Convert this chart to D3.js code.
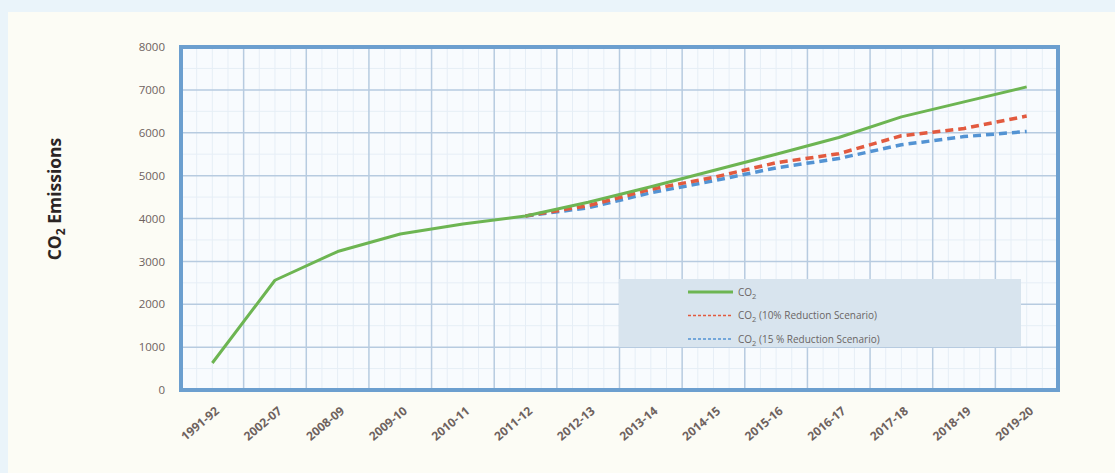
<!DOCTYPE html>
<meta charset="utf-8">
<style>
body { margin: 0; background: #eaf4fa; }
svg { display: block; }
.tick text { font-family: "Open Sans", Arial, sans-serif; fill: #6e625e; }
.axis path, .axis line { display: none; }
</style>
<body>
<svg width="1115" height="473" id="vis"></svg>
<script src="https://cdn.jsdelivr.net/npm/d3@7/dist/d3.min.js"></script>
<script>
// values
var years = ["1991-92","2002-07","2008-09","2009-10","2010-11","2011-12","2012-13",
  "2013-14","2014-15","2015-16","2016-17","2017-18","2018-19","2019-20"];
var co2     = [630, 2560, 3230, 3640, 3870, 4060, 4380, 4740, 5120, 5500, 5890, 6370, 6720, 7070];
var co2Ten  = [null, null, null, null, null, 4060, 4300, 4680, 4960, 5300, 5510, 5930, 6100, 6390];
var co2Fift = [null, null, null, null, null, 4060, 4250, 4600, 4880, 5180, 5400, 5720, 5910, 6030];
var yTicks = [0,1000,2000,3000,4000,5000,6000,7000,8000];

var series = [
  {name: "CO", tail: "", values: co2, color: "#6db552", dash: null, width: 3},
  {name: "CO", tail: " (10% Reduction Scenario)", values: co2Ten, color: "#e25a3f", dash: "8,5", width: 3.5},
  {name: "CO", tail: " (15 % Reduction Scenario)", values: co2Fift, color: "#5393d3", dash: "8,5", width: 3.5}
];

var svg = d3.select("svg");
svg.append("rect").attr("x", 8).attr("y", 12).attr("width", 1107).attr("height", 461).attr("fill", "#fcfcf5");

var pLeft = 181, pRight = 1058, pTop = 47, pBottom = 390;
var x = d3.scaleBand().domain(years).range([pLeft, pRight]);
var y = d3.scaleLinear().domain([0, 8000]).range([pBottom, pTop]);

svg.append("rect").attr("x", pLeft).attr("y", pTop).attr("width", pRight-pLeft).attr("height", pBottom-pTop)
  .attr("fill", "#f8fbfe");

// minor grid
var minorX = [];
years.forEach(function(d){ [0.25,0.5,0.75].forEach(function(f){ minorX.push(x(d) + f*x.bandwidth()); }); });
svg.append("g").selectAll("line").data(minorX).enter().append("line")
  .attr("x1", function(d){return d;}).attr("x2", function(d){return d;})
  .attr("y1", pTop).attr("y2", pBottom).attr("stroke", "#e6eef6").attr("stroke-width", 1);
var minorY = d3.range(500, 8000, 1000);
svg.append("g").selectAll("line").data(minorY).enter().append("line")
  .attr("x1", pLeft).attr("x2", pRight)
  .attr("y1", function(d){return y(d);}).attr("y2", function(d){return y(d);})
  .attr("stroke", "#e6eef6").attr("stroke-width", 1);

// major grid
svg.append("g").selectAll("line").data(years.slice(1)).enter().append("line")
  .attr("x1", function(d){return x(d);}).attr("x2", function(d){return x(d);})
  .attr("y1", pTop).attr("y2", pBottom).attr("stroke", "#b7cbe0").attr("stroke-width", 1.5);
svg.append("g").selectAll("line").data(yTicks).enter().append("line")
  .attr("x1", pLeft).attr("x2", pRight)
  .attr("y1", function(d){return y(d);}).attr("y2", function(d){return y(d);})
  .attr("stroke", "#b7cbe0").attr("stroke-width", 1.5);

// axes
var ya = svg.append("g").attr("class", "axis").attr("transform", "translate(" + (pLeft - 6) + ",0)")
  .call(d3.axisLeft(y).tickValues(yTicks).tickSize(0).tickPadding(10).tickFormat(d3.format("d")));
ya.selectAll("text").style("font-size", "11.5px");

var xa = svg.append("g").attr("class", "axis").attr("transform", "translate(0," + (pBottom + 4) + ")")
  .call(d3.axisBottom(x).tickSize(0).tickPadding(0));
xa.selectAll("text")
  .style("font-size", "12px").style("font-weight", "700")
  .attr("text-anchor", "end")
  .attr("dy", "0.35em")
  .attr("y", 0)
  .attr("transform", "translate(5,15) rotate(-40)");

// lines
var line = d3.line()
  .defined(function(d){ return d.v != null; })
  .x(function(d){ return x(d.k) + x.bandwidth()/2; })
  .y(function(d){ return y(d.v); });

series.slice().reverse().forEach(function(s){
  var pts = years.map(function(k, i){ return {k: k, v: s.values[i]}; });
  svg.append("path").datum(pts)
    .attr("d", line)
    .attr("fill", "none")
    .attr("stroke", s.color)
    .attr("stroke-width", s.width)
    .attr("stroke-dasharray", s.dash)
    .attr("stroke-linejoin", "round");
});

// legend
var lg = svg.append("g");
lg.append("rect").attr("x", 619).attr("y", 279).attr("width", 402).attr("height", 68).attr("fill", "#d8e4ee");
series.forEach(function(s, i){
  var ly = 292 + i*23.5;
  lg.append("line").attr("x1", 688).attr("x2", 733).attr("y1", ly).attr("y2", ly)
    .attr("stroke", s.color).attr("stroke-width", i == 0 ? 3 : 1.5)
    .attr("stroke-dasharray", i == 0 ? null : "3,2");
  var t = lg.append("text").attr("x", 738).attr("y", ly + 3.5)
    .style("font-family", "'Open Sans', Arial, sans-serif").style("font-size", "10px").attr("fill", "#6a6464");
  t.append("tspan").text(s.name);
  t.append("tspan").attr("dy", 3).style("font-size", "7.5px").text("2");
  t.append("tspan").attr("dy", -3).text(s.tail);
});

// y axis title
var yt = svg.append("text")
  .attr("transform", "translate(61,199) rotate(-90)")
  .attr("text-anchor", "middle")
  .style("font-family", "'Liberation Sans Narrow', 'Open Sans', Arial, sans-serif")
  .style("font-size", "17.5px").style("font-weight", "bold").attr("fill", "#2b2524");
yt.append("tspan").text("CO");
yt.append("tspan").attr("dy", 4).style("font-size", "12px").text("2");
yt.append("tspan").attr("dy", -4).text(" Emissions");

// plot border
svg.append("rect").attr("x", pLeft).attr("y", pTop).attr("width", pRight-pLeft).attr("height", pBottom-pTop)
  .attr("fill", "none").attr("stroke", "#6c9fcf").attr("stroke-width", 4);
</script>
</body>
